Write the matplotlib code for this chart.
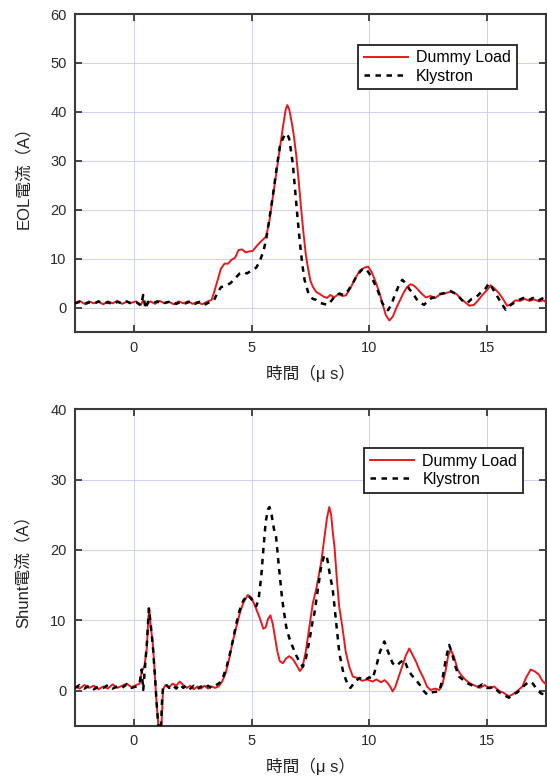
import numpy as np
import matplotlib
matplotlib.use("Agg")
import matplotlib.pyplot as plt

plt.rcParams['font.family'] = ['Liberation Sans', 'Noto Sans CJK JP', 'DejaVu Sans']

# ---- EOL current (top panel)
eol_dummy_x = [-2.5, -2.3, -2.1, -1.9, -1.7, -1.5, -1.3, -1.1, -0.9, -0.7, -0.5, -0.3, -0.1, 0.1, 0.3, 0.4, 0.5, 0.7, 0.9, 1.1,
               1.3, 1.5, 1.7, 1.9, 2.1, 2.3, 2.5, 2.7, 2.9, 3.1, 3.3, 3.4, 3.55, 3.7, 3.85, 4.0, 4.15, 4.3, 4.45, 4.6,
               4.75, 4.9, 5.05, 5.2, 5.35, 5.5, 5.62, 5.75, 5.9, 6.05, 6.2, 6.35, 6.45, 6.52, 6.6, 6.7, 6.8, 6.9, 7.0, 7.1,
               7.2, 7.3, 7.4, 7.5, 7.6, 7.75, 7.9, 8.05, 8.2, 8.35, 8.5, 8.7, 8.85, 9.0, 9.2, 9.4, 9.6, 9.8, 9.95, 10.1,
               10.25, 10.4, 10.55, 10.7, 10.85, 11.0, 11.15, 11.3, 11.45, 11.6, 11.75, 11.9, 12.05, 12.2, 12.4, 12.6, 12.8, 13.0, 13.2, 13.45,
               13.7, 13.9, 14.1, 14.25, 14.45, 14.6, 14.8, 15.0, 15.15, 15.3, 15.5, 15.65, 15.85, 16.0, 16.2, 16.4, 16.6, 16.8, 17.0, 17.2,
               17.4, 17.5]
eol_dummy_y = [1.0, 1.4, 0.8, 1.3, 0.9, 1.2, 0.7, 1.3, 0.9, 1.4, 0.8, 1.2, 1.0, 1.3, 0.6, 1.6, 0.4, 1.3, 0.8, 1.4,
               0.9, 1.2, 0.7, 1.3, 0.9, 1.3, 0.8, 1.2, 0.7, 1.2, 1.6, 3.0, 5.5, 8.0, 9.0, 9.0, 9.8, 10.2, 11.8, 11.9,
               11.3, 11.5, 11.6, 12.5, 13.3, 14.0, 14.6, 17.5, 22.5, 27.5, 32.5, 37.5, 40.5, 41.4, 40.5, 38.0, 35.0, 31.0, 26.0, 20.5,
               15.5, 11.0, 8.0, 5.5, 4.3, 3.2, 2.8, 2.3, 2.0, 2.6, 2.1, 2.8, 2.4, 2.5, 4.0, 6.0, 7.6, 8.2, 8.4, 7.3,
               5.5, 3.5, 1.0, -1.5, -2.6, -1.8, 0.0, 1.5, 3.0, 4.2, 4.8, 4.5, 3.8, 3.0, 2.1, 2.4, 2.0, 2.7, 2.9, 3.3,
               2.8, 1.8, 1.0, 0.4, 0.6, 1.4, 2.6, 3.6, 4.6, 4.0, 3.0, 2.0, 0.4, 0.7, 1.5, 1.4, 1.8, 1.4, 1.7, 1.3,
               1.5, 1.1]

eol_kly_x = [-2.5, -2.3, -2.1, -1.9, -1.7, -1.5, -1.3, -1.1, -0.9, -0.7, -0.5, -0.3, -0.1, 0.1, 0.3, 0.4, 0.5, 0.6, 0.8, 1.0,
             1.2, 1.4, 1.6, 1.8, 2.0, 2.2, 2.4, 2.6, 2.8, 3.0, 3.2, 3.4, 3.55, 3.7, 3.9, 4.1, 4.3, 4.5, 4.65, 4.8,
             5.0, 5.2, 5.35, 5.5, 5.62, 5.75, 5.9, 6.05, 6.2, 6.35, 6.5, 6.6, 6.75, 6.85, 6.96, 7.05, 7.15, 7.25, 7.4, 7.6,
             7.75, 7.9, 8.05, 8.25, 8.4, 8.55, 8.73, 8.9, 9.1, 9.3, 9.5, 9.7, 9.85, 10.0, 10.2, 10.4, 10.55, 10.7, 10.8, 10.95,
             11.1, 11.25, 11.4, 11.55, 11.7, 11.84, 12.0, 12.15, 12.33, 12.5, 12.65, 12.8, 13.0, 13.2, 13.45, 13.65, 13.85, 14.0, 14.17, 14.35,
             14.55, 14.75, 14.95, 15.08, 15.2, 15.35, 15.5, 15.65, 15.79, 15.95, 16.15, 16.36, 16.55, 16.75, 16.95, 17.15, 17.35, 17.5]
eol_kly_y = [0.9, 1.2, 0.7, 1.1, 0.8, 1.3, 0.9, 1.1, 0.7, 1.2, 0.9, 1.3, 0.8, 1.1, 0.5, 2.6, -0.2, 1.2, 0.9, 1.3,
             0.8, 1.1, 1.3, 0.8, 1.2, 0.9, 1.3, 0.8, 1.2, 0.6, 1.1, 1.5, 3.0, 4.2, 4.5, 5.0, 6.0, 7.0, 7.3, 7.0,
             7.6, 8.2, 9.5, 11.5, 13.9, 18.0, 22.7, 28.0, 32.9, 34.8, 35.6, 34.5, 29.5, 24.0, 18.0, 13.5, 9.0, 5.7, 3.2, 1.8,
             1.6, 1.0, 0.8, 0.6, 1.5, 2.4, 2.9, 2.6, 3.5, 5.0, 6.8, 7.8, 8.0, 7.0, 5.2, 3.0, 1.0, -0.2, -0.5, 0.8,
             2.8, 4.5, 5.7, 5.0, 3.8, 3.0, 1.8, 1.0, 0.6, 1.5, 2.0, 2.1, 2.8, 3.0, 3.4, 2.9, 2.0, 1.2, 1.0, 1.8,
             2.2, 3.2, 4.0, 5.0, 4.2, 3.0, 1.8, 0.6, -0.4, 0.4, 1.0, 1.6, 2.0, 1.5, 2.0, 1.4, 1.9, 1.3]

# ---- Shunt current (bottom panel)
shunt_dummy_x = [-2.5, -2.3, -2.1, -1.9, -1.7, -1.5, -1.3, -1.1, -0.9, -0.7, -0.5, -0.3, -0.1, 0.1, 0.25, 0.35, 0.45, 0.55, 0.62, 0.66,
                 0.72, 0.8, 0.88, 0.95, 1.02, 1.08, 1.15, 1.2, 1.24, 1.35, 1.5, 1.65, 1.8, 1.95, 2.1, 2.25, 2.4, 2.55, 2.7, 2.85,
                 3.0, 3.15, 3.3, 3.45, 3.6, 3.75, 3.9, 4.05, 4.2, 4.35, 4.5, 4.65, 4.84, 5.0, 5.1, 5.2, 5.35, 5.5, 5.6, 5.7,
                 5.8, 5.9, 6.0, 6.1, 6.2, 6.33, 6.47, 6.6, 6.75, 6.9, 7.05, 7.15, 7.3, 7.45, 7.6, 7.75, 7.95, 8.1, 8.2, 8.3,
                 8.38, 8.45, 8.52, 8.62, 8.72, 8.87, 9.0, 9.15, 9.3, 9.5, 9.7, 9.9, 10.14, 10.3, 10.5, 10.65, 10.78, 10.9, 10.99, 11.1,
                 11.25, 11.4, 11.55, 11.7, 11.85, 12.0, 12.12, 12.3, 12.45, 12.6, 12.8, 12.97, 13.1, 13.25, 13.35, 13.46, 13.6, 13.75, 13.9, 14.1,
                 14.3, 14.5, 14.7, 14.9, 15.1, 15.3, 15.5, 15.7, 15.93, 16.1, 16.3, 16.5, 16.65, 16.85, 17.0, 17.2, 17.35, 17.5]
shunt_dummy_y = [0.6, 0.3, 0.8, 0.4, 0.7, 0.2, 0.6, 0.3, 0.9, 0.4, 0.7, 1.0, 0.5, 0.8, 1.0, 2.8, 3.5, 6.0, 10.5, 11.5,
                 9.0, 7.0, 3.0, -1.0, -4.0, -6.5, -6.5, -3.0, 0.2, 0.8, 0.5, 1.0, 0.7, 1.3, 0.8, 0.4, 0.7, 0.2, 0.6, 0.3,
                 0.7, 0.3, 0.6, 0.4, 0.6, 1.3, 2.5, 4.5, 7.0, 9.0, 11.0, 12.5, 13.6, 13.2, 12.4, 11.6, 10.3, 8.8, 9.0, 10.2,
                 10.7, 9.5, 7.5, 5.5, 4.2, 3.9, 4.6, 4.9, 4.5, 3.7, 2.8, 3.2, 5.5, 9.0, 12.4, 14.5, 18.1, 22.0, 24.5, 26.1,
                 25.0, 22.5, 20.5, 16.0, 12.0, 8.7, 5.5, 3.4, 2.0, 1.8, 1.4, 1.6, 1.3, 1.6, 1.2, 1.5, 1.1, 0.5, -0.1, 0.5,
                 2.0, 3.5, 5.0, 6.0, 5.0, 4.0, 3.0, 1.8, 0.6, 0.1, 0.3, 0.1, 0.8, 3.0, 5.0, 5.8, 4.8, 3.0, 2.2, 1.5,
                 1.0, 0.7, 0.4, 0.8, 0.3, 0.6, 0.0, -0.3, -0.8, -0.5, 0.0, 0.6, 1.8, 3.0, 2.8, 2.3, 1.4, 0.9]

shunt_kly_x = [-2.5, -2.3, -2.1, -1.9, -1.7, -1.5, -1.3, -1.1, -0.9, -0.7, -0.5, -0.3, -0.1, 0.1, 0.25, 0.33, 0.4, 0.48, 0.56, 0.64,
               0.7, 0.76, 0.82, 0.9, 0.96, 1.03, 1.1, 1.15, 1.2, 1.24, 1.35, 1.5, 1.65, 1.8, 1.95, 2.1, 2.25, 2.4, 2.55, 2.7,
               2.85, 3.0, 3.15, 3.3, 3.5, 3.64, 3.8, 3.95, 4.1, 4.21, 4.35, 4.5, 4.65, 4.84, 5.0, 5.2, 5.3, 5.41, 5.5, 5.6,
               5.7, 5.76, 5.85, 5.95, 6.04, 6.15, 6.3, 6.47, 6.6, 6.75, 6.9, 7.05, 7.18, 7.3, 7.45, 7.6, 7.67, 7.8, 7.95, 8.09,
               8.2, 8.3, 8.45, 8.6, 8.73, 8.9, 9.08, 9.2, 9.4, 9.58, 9.8, 10.0, 10.14, 10.3, 10.45, 10.64, 10.8, 10.99, 11.15, 11.3,
               11.48, 11.65, 11.8, 11.97, 12.15, 12.3, 12.47, 12.7, 12.97, 13.1, 13.25, 13.39, 13.5, 13.65, 13.81, 14.0, 14.2, 14.4, 14.6, 14.8,
               15.0, 15.3, 15.5, 15.7, 15.93, 16.1, 16.3, 16.5, 16.78, 16.95, 17.13, 17.3, 17.5]
shunt_kly_y = [0.4, 0.8, 0.3, 0.7, 0.2, 0.6, 0.4, 0.8, 0.3, 0.6, 0.4, 0.9, 0.4, 0.6, 1.2, 3.0, 0.1, 3.5, 7.0, 11.7,
               10.0, 8.0, 5.8, 2.0, -1.3, -4.5, -6.5, -5.5, -1.3, 0.4, 0.9, 0.4, 0.8, 0.3, 0.9, 0.4, 0.8, 0.3, 0.7, 0.2,
               0.6, 0.3, 0.7, 0.4, 0.8, 1.1, 2.0, 3.5, 5.5, 7.2, 9.5, 11.5, 12.8, 13.6, 13.0, 12.0, 13.0, 16.2, 20.0, 24.0,
               25.8, 26.1, 25.0, 23.0, 21.9, 18.0, 13.0, 9.1, 7.5, 6.2, 5.0, 4.0, 3.4, 4.5, 7.0, 10.0, 11.0, 14.0, 17.5, 19.3,
               19.0, 17.0, 14.3, 9.5, 5.3, 2.5, 0.9, 0.4, 1.3, 1.8, 1.5, 1.9, 1.7, 3.5, 5.5, 7.0, 5.5, 3.9, 3.5, 4.0,
               4.4, 3.0, 2.2, 1.6, 0.8, 0.0, -0.6, -0.2, -0.1, 1.5, 4.5, 6.5, 5.5, 3.5, 2.0, 1.5, 1.0, 0.7, 0.5, 0.9,
               0.4, 0.5, -0.2, -0.6, -1.0, -0.6, -0.2, 0.5, 1.3, 1.0, 0.1, -0.4, -0.6]

panels = [
    (eol_dummy_x, eol_dummy_y, eol_kly_x, eol_kly_y, "EOL電流（A）", (-5, 60), np.arange(0, 61, 10), (0.938, 0.903)),
    (shunt_dummy_x, shunt_dummy_y, shunt_kly_x, shunt_kly_y, "Shunt電流（A）", (-5, 40), np.arange(0, 41, 10), (0.951, 0.877)),
]

fig = plt.figure(figsize=(5.47, 7.78), dpi=100)
axes = [fig.add_axes([0.137, 0.573, 0.861, 0.409]),
        fig.add_axes([0.137, 0.067, 0.861, 0.407])]

for ax, (dx, dy, kx, ky, ylab, ylim, yticks, leg_pos) in zip(axes, panels):
    ax.plot(dx, dy, color="#e8191e", lw=1.4, label="Dummy Load", zorder=3)
    ax.plot(kx, ky, color="black", lw=1.8, ls=(0, (2.2, 2.2)), label="Klystron", zorder=4)
    ax.set_xlim(-2.5, 17.5)
    ax.set_ylim(*ylim)
    ax.set_xticks([0, 5, 10, 15])
    ax.set_yticks(yticks)
    ax.grid(True, color="#d0d0f4", lw=0.7)
    ax.set_axisbelow(True)
    for s in ax.spines.values():
        s.set_color("#3a3a3a")
        s.set_linewidth(1.5)
    ax.tick_params(direction="in", top=True, right=True, length=5, width=1.3,
                   color="#3a3a3a", labelsize=10.5, labelcolor="#2a2a2a", pad=6)
    ax.set_xlabel("時間（μ s）", fontsize=12, color="#222222", labelpad=7)
    ax.set_ylabel(ylab, fontsize=12, color="#222222", labelpad=14)
    leg = ax.legend(loc="upper right", bbox_to_anchor=leg_pos, borderaxespad=0,
                    fancybox=False, framealpha=1, edgecolor="#222222", fontsize=11.5,
                    handlelength=2.8, handletextpad=0.5, borderpad=0.35, labelspacing=0.2)
    leg.get_frame().set_linewidth(1.3)

fig.savefig("out.png", dpi=100)
